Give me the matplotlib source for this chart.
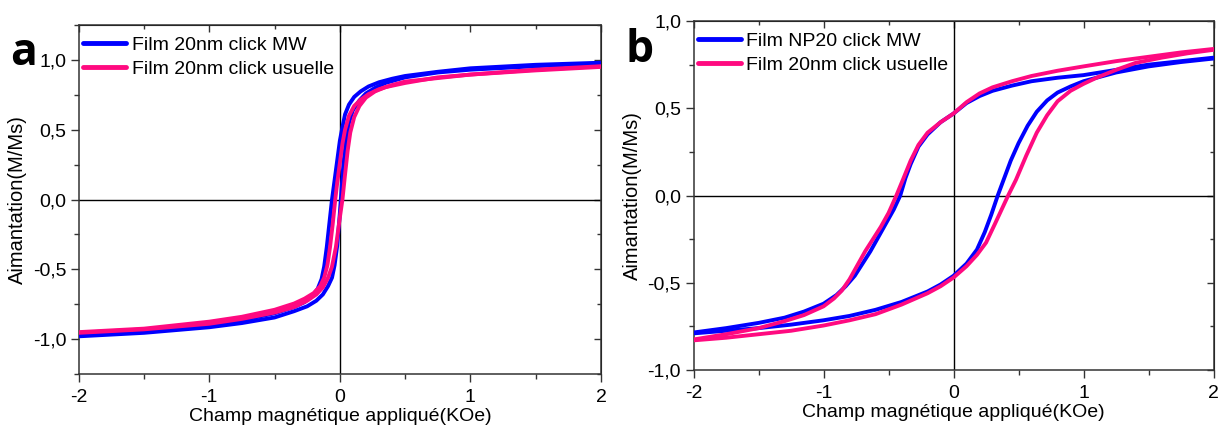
import matplotlib
matplotlib.use("Agg")
import matplotlib.pyplot as plt
from matplotlib.ticker import FixedLocator, MultipleLocator

plt.rcParams["font.family"] = ["Liberation Sans", "DejaVu Sans"]

BLUE = "#0000ff"
PINK = "#ff0a80"

# ---- panel a : Film 20nm click MW / usuelle ----
a_mw_down_x = [2.0, 1.5, 1.0, 0.75, 0.5, 0.4, 0.3, 0.22, 0.16, 0.11, 0.07, 0.04, 0.02, 0.0,
               -0.02, -0.04, -0.06, -0.08, -0.1, -0.12, -0.14, -0.17, -0.21, -0.27, -0.35,
               -0.5, -0.75, -1.0, -1.5, -2.0]
a_mw_down_y = [0.98, 0.965, 0.94, 0.915, 0.885, 0.865, 0.84, 0.81, 0.775, 0.735, 0.68, 0.61, 0.52, 0.42,
               0.28, 0.14, 0.0, -0.17, -0.34, -0.48, -0.57, -0.64, -0.69, -0.735, -0.77,
               -0.815, -0.865, -0.90, -0.945, -0.97]
a_mw_up_x = [-2.0, -1.5, -1.0, -0.75, -0.5, -0.35, -0.25, -0.18, -0.13, -0.09, -0.06, -0.04, -0.02,
             0.0, 0.015, 0.03, 0.05, 0.07, 0.1, 0.15, 0.2, 0.27, 0.35, 0.5, 0.75, 1.0, 1.5, 2.0]
a_mw_up_y = [-0.98, -0.955, -0.915, -0.885, -0.845, -0.80, -0.765, -0.725, -0.68, -0.62, -0.56, -0.47, -0.33,
             -0.10, 0.10, 0.28, 0.44, 0.55, 0.64, 0.71, 0.76, 0.80, 0.835, 0.875, 0.91, 0.93, 0.955, 0.975]

a_us_down_x = [2.0, 1.5, 1.0, 0.75, 0.5, 0.4, 0.3, 0.22, 0.16, 0.11, 0.07, 0.04, 0.02, 0.0,
               -0.02, -0.035, -0.055, -0.075, -0.095, -0.12, -0.15, -0.2, -0.27, -0.35,
               -0.5, -0.75, -1.0, -1.5, -2.0]
a_us_down_y = [0.955, 0.93, 0.895, 0.87, 0.845, 0.82, 0.79, 0.755, 0.715, 0.67, 0.60, 0.50, 0.40, 0.26,
               0.12, 0.0, -0.18, -0.34, -0.47, -0.56, -0.62, -0.67, -0.71, -0.745,
               -0.79, -0.84, -0.875, -0.925, -0.95]
a_us_up_x = [-2.0, -1.5, -1.0, -0.75, -0.5, -0.35, -0.25, -0.18, -0.13, -0.09, -0.06, -0.03, 0.0,
             0.02, 0.04, 0.06, 0.08, 0.11, 0.15, 0.2, 0.27, 0.35, 0.5, 0.75, 1.0, 1.5, 2.0]
a_us_up_y = [-0.955, -0.93, -0.89, -0.855, -0.81, -0.77, -0.725, -0.68, -0.63, -0.56, -0.48, -0.34, -0.13,
             0.0, 0.18, 0.35, 0.48, 0.59, 0.67, 0.73, 0.775, 0.805, 0.835, 0.875, 0.895, 0.925, 0.95]

# ---- panel b : Film NP20 click MW / Film 20nm click usuelle ----
b_mw_down_x = [2.0, 1.75, 1.5, 1.25, 1.0, 0.8, 0.6, 0.45, 0.3, 0.2, 0.1, 0.0, -0.1, -0.2, -0.27,
               -0.33, -0.37, -0.41, -0.46, -0.52, -0.58, -0.64, -0.7, -0.76, -0.83, -0.9, -1.0,
               -1.15, -1.3, -1.5, -1.75, -2.0]
b_mw_down_y = [0.79, 0.77, 0.75, 0.72, 0.69, 0.675, 0.655, 0.63, 0.60, 0.57, 0.53, 0.47, 0.42, 0.35, 0.28,
               0.18, 0.10, 0.0, -0.08, -0.16, -0.24, -0.32, -0.39, -0.46, -0.52, -0.57, -0.62,
               -0.665, -0.70, -0.73, -0.76, -0.785]
b_mw_up_x = [-2.0, -1.75, -1.5, -1.25, -1.0, -0.8, -0.6, -0.4, -0.2, -0.1, 0.0, 0.1, 0.18, 0.24,
             0.29, 0.34, 0.39, 0.44, 0.5, 0.57, 0.64, 0.72, 0.8, 0.9, 1.0, 1.1, 1.25, 1.5, 1.75, 2.0]
b_mw_up_y = [-0.79, -0.775, -0.76, -0.74, -0.715, -0.69, -0.655, -0.61, -0.55, -0.51, -0.46, -0.39, -0.31, -0.21,
             -0.11, 0.0, 0.10, 0.20, 0.30, 0.40, 0.48, 0.545, 0.59, 0.625, 0.655, 0.675, 0.705, 0.74, 0.765, 0.785]

b_us_down_x = [2.0, 1.75, 1.5, 1.25, 1.0, 0.8, 0.6, 0.45, 0.3, 0.2, 0.1, 0.0, -0.1, -0.2, -0.27,
               -0.33, -0.39, -0.44, -0.5, -0.56, -0.62, -0.68, -0.74, -0.8, -0.86, -0.92, -1.0,
               -1.15, -1.3, -1.5, -1.75, -2.0]
b_us_down_y = [0.84, 0.82, 0.795, 0.77, 0.74, 0.715, 0.685, 0.655, 0.62, 0.585, 0.535, 0.47, 0.42, 0.36, 0.29,
               0.20, 0.09, 0.0, -0.10, -0.18, -0.25, -0.32, -0.40, -0.48, -0.545, -0.59, -0.635,
               -0.685, -0.72, -0.76, -0.795, -0.825]
b_us_up_x = [-2.0, -1.75, -1.5, -1.25, -1.0, -0.8, -0.6, -0.4, -0.2, -0.1, 0.0, 0.1, 0.18, 0.25,
             0.32, 0.37, 0.42, 0.48, 0.56, 0.64, 0.72, 0.8, 0.9, 1.0, 1.1, 1.25, 1.4, 1.6, 1.8, 2.0]
b_us_up_y = [-0.83, -0.815, -0.795, -0.775, -0.745, -0.715, -0.68, -0.625, -0.56, -0.52, -0.47, -0.405, -0.34, -0.27,
             -0.16, -0.08, 0.0, 0.09, 0.23, 0.36, 0.46, 0.54, 0.60, 0.64, 0.675, 0.72, 0.76, 0.79, 0.815, 0.835]

x_ticks = [-2, -1, 0, 1, 2]
x_tick_labels = ["-2", "-1", "0", "1", "2"]
y_ticks = [-1.0, -0.5, 0.0, 0.5, 1.0]
y_tick_labels = ["-1,0", "-0,5", "0,0", "0,5", "1,0"]

a_labels = ["Film 20nm click MW", "Film 20nm click usuelle"]
b_labels = ["Film NP20 click MW", "Film 20nm click usuelle"]

xlabel = "Champ magnétique appliqué(KOe)"
ylabel = "Aimantation(M/Ms)"


def style_axes(ax, ylim):
    ax.set_xlim(-2, 2)
    ax.set_ylim(*ylim)
    ax.axhline(0, color="black", lw=1.0, zorder=1)
    ax.axvline(0, color="black", lw=1.0, zorder=1)
    ax.xaxis.set_major_locator(FixedLocator(x_ticks))
    ax.set_xticklabels(x_tick_labels)
    ax.yaxis.set_major_locator(FixedLocator(y_ticks))
    ax.set_yticklabels(y_tick_labels)
    ax.xaxis.set_minor_locator(MultipleLocator(0.5))
    ax.yaxis.set_minor_locator(MultipleLocator(0.25))
    ax.tick_params(which="both", direction="out", labelsize=14, color="#333333",
                   width=1.0, top=False, right=False)
    ax.tick_params(axis="x", pad=5)
    ax.tick_params(axis="y", pad=3)
    ax.tick_params(which="major", length=6)
    ax.tick_params(which="minor", length=3.5)
    for s in ax.spines.values():
        s.set_linewidth(1.1)
        s.set_color("#333333")
    # mirror ticks inside on top/right
    top = ax.secondary_xaxis("top")
    top.xaxis.set_major_locator(FixedLocator(x_ticks))
    top.xaxis.set_minor_locator(MultipleLocator(0.5))
    top.tick_params(which="both", direction="in", labeltop=False, color="#333333", width=1.0)
    top.tick_params(which="major", length=5)
    top.tick_params(which="minor", length=3)
    right = ax.secondary_yaxis("right")
    right.yaxis.set_major_locator(FixedLocator(y_ticks))
    right.yaxis.set_minor_locator(MultipleLocator(0.25))
    right.tick_params(which="both", direction="in", labelright=False, color="#333333", width=1.0)
    right.tick_params(which="major", length=5)
    right.tick_params(which="minor", length=3)
    ax.set_xlabel(xlabel, fontsize=14, labelpad=1)
    ax.set_ylabel(ylabel, fontsize=14.5, labelpad=4)


fig = plt.figure(figsize=(12.2, 4.3), dpi=100)
ax_a = fig.add_axes([0.0645, 0.1302, 0.4281, 0.8116])
ax_b = fig.add_axes([0.5685, 0.1395, 0.4262, 0.8116])

lw = 2.8
kw = dict(lw=lw, solid_joinstyle="round", solid_capstyle="round")
ax_a.plot(a_mw_down_x, a_mw_down_y, color=BLUE, label=a_labels[0], zorder=3, **kw)
ax_a.plot(a_mw_up_x, a_mw_up_y, color=BLUE, zorder=3, **kw)
ax_a.plot(a_us_down_x, a_us_down_y, color=PINK, label=a_labels[1], zorder=4, **kw)
ax_a.plot(a_us_up_x, a_us_up_y, color=PINK, zorder=4, **kw)
style_axes(ax_a, (-1.25, 1.25))

ax_b.plot(b_mw_down_x, b_mw_down_y, color=BLUE, label=b_labels[0], zorder=3, **kw)
ax_b.plot(b_mw_up_x, b_mw_up_y, color=BLUE, zorder=3, **kw)
ax_b.plot(b_us_down_x, b_us_down_y, color=PINK, label=b_labels[1], zorder=4, **kw)
ax_b.plot(b_us_up_x, b_us_up_y, color=PINK, zorder=4, **kw)
style_axes(ax_b, (-1.0, 1.0))

for ax in (ax_a, ax_b):
    leg = ax.legend(loc="upper left", bbox_to_anchor=(0.0, 0.979), frameon=False,
                    fontsize=14, handlelength=2.2, handletextpad=0.3, labelspacing=0.3,
                    borderaxespad=0.0, borderpad=0.22)
    for h in leg.get_lines():
        h.set_linewidth(3.5)

fig.text(0.008, 0.848, "a", fontsize=32, fontweight="bold", family="Open Sans")
fig.text(0.513, 0.855, "b", fontsize=32, fontweight="bold", family="Open Sans")

fig.savefig("out.png", dpi=100)
